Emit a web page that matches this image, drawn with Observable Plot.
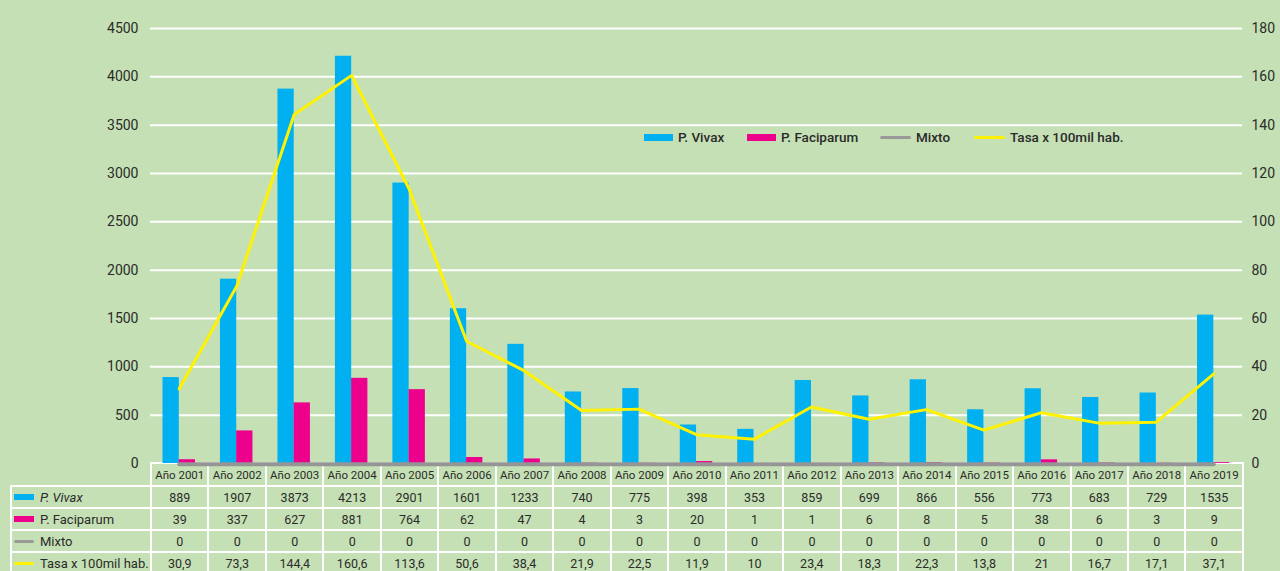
<!DOCTYPE html>
<html><head><meta charset="utf-8">
<script src="https://cdn.jsdelivr.net/npm/d3@7"></script>
<script src="https://cdn.jsdelivr.net/npm/@observablehq/plot@0.6"></script>
<style>
body{margin:0;background:#c5e0b4;font-family:Roboto,"DejaVu Sans",sans-serif;color:#2b2b2b}
#wrap{position:relative;width:1280px;height:571px;overflow:hidden;background:#c5e0b4}
#chart{position:absolute;left:0;top:0;z-index:2}
#legend{position:absolute;left:0;top:0;width:1280px;height:0;z-index:3;font-size:13.5px;font-weight:500;color:#2b2b2b}
.lg{position:absolute;display:flex;align-items:center;white-space:nowrap;top:128px;height:18px}
.sw{display:inline-block;width:29px;margin-right:5px}
table{position:absolute;left:10px;top:462px;border-collapse:collapse;table-layout:fixed;width:1232px;z-index:1}
td{border:2px solid #fff;text-align:center;font-size:12.5px;color:#2b2b2b;padding:0;height:20px;white-space:nowrap;overflow:hidden}
tr.hd td{font-size:11.5px;height:21px}
tr.hd td.blank{border-top:none;border-left:none;border-bottom:2px solid #fff}
td.lab{text-align:left;font-size:13px;padding-left:2px}
.tsw{display:inline-block;width:20px;vertical-align:middle;margin-right:6px;position:relative;top:-1px}
</style></head><body>
<div id="wrap"><div id="chart"></div><div id="legend"></div><table id="tbl"></table></div>
<script>
const years = ["Año 2001","Año 2002","Año 2003","Año 2004","Año 2005","Año 2006","Año 2007","Año 2008","Año 2009","Año 2010","Año 2011","Año 2012","Año 2013","Año 2014","Año 2015","Año 2016","Año 2017","Año 2018","Año 2019"];
const vivax = [889,1907,3873,4213,2901,1601,1233,740,775,398,353,859,699,866,556,773,683,729,1535];
const falciparum = [39,337,627,881,764,62,47,4,3,20,1,1,6,8,5,38,6,3,9];
const mixto = [0,0,0,0,0,0,0,0,0,0,0,0,0,0,0,0,0,0,0];
const tasa = [30.9,73.3,144.4,160.6,113.6,50.6,38.4,21.9,22.5,11.9,10,23.4,18.3,22.3,13.8,21,16.7,17.1,37.1];
const tasaLabels = ["30,9","73,3","144,4","160,6","113,6","50,6","38,4","21,9","22,5","11,9","10","23,4","18,3","22,3","13,8","21","16,7","17,1","37,1"];
const leftTicks = [0,500,1000,1500,2000,2500,3000,3500,4000,4500];
const rightTicks = [0,20,40,60,80,100,120,140,160,180];
const seriesNames = ["P. Vivax","P. Faciparum","Mixto","Tasa x  100mil hab."];
const tableNames = ["P. Vivax","P. Faciparum","Mixto","Tasa x 100mil hab."];
const colors = ["#00b0f0","#ec008c","#999999","#fff200"];

const k = 4500 / 180; // right axis -> left axis units
const data = years.map((y, i) => ({year: y, vivax: vivax[i], falc: falciparum[i], mixto: mixto[i], tasa: tasa[i]}));

const chart = Plot.plot({
  width: 1280, height: 476,
  marginTop: 28, marginBottom: 13, marginLeft: 150, marginRight: 38,
  style: {background: "transparent", fontFamily: "Roboto, sans-serif", fontSize: "14px", color: "#2b2b2b"},
  x: {domain: years, padding: 0, round: false, axis: null},
  y: {domain: [0, 4500], axis: null},
  marks: [
    Plot.gridY(leftTicks.slice(1), {stroke: "#fff", strokeOpacity: 1, strokeWidth: 2}),
    Plot.axisY(leftTicks, {anchor: "left", tickSize: 0, tickPadding: 12, fontSize: 14, tickFormat: d => String(d)}),
    Plot.axisY(rightTicks.map(d => d * k), {anchor: "right", tickSize: 0, tickPadding: 9, fontSize: 14, tickFormat: d => String(Math.round(d / k))}),
    Plot.barY(data, {x: "year", y: "vivax", fill: colors[0], insetLeft: 12.5, insetRight: 28.7}),
    Plot.barY(data, {x: "year", y: "falc", fill: colors[1], insetLeft: 28.7, insetRight: 12.5}),
    Plot.lineY(data, {x: "year", y: "mixto", stroke: "#959595", strokeWidth: 4, dy: 0.8}),
    Plot.lineY(data, {x: "year", y: d => d.tasa * k, stroke: colors[3], strokeWidth: 3})
  ]
});
document.getElementById("chart").appendChild(chart);

// legend
const legendPos = [644, 747, 880, 974];
const lg = document.getElementById("legend");
seriesNames.forEach((name, i) => {
  const item = document.createElement("div");
  item.className = "lg";
  item.style.left = legendPos[i] + "px";
  const sw = document.createElement("span");
  sw.className = "sw";
  sw.style.background = colors[i];
  sw.style.height = i < 2 ? "7px" : "3px";
  if (i >= 2) { sw.style.borderRadius = "2px"; sw.style.width = "31px"; }
  item.appendChild(sw);
  item.appendChild(document.createTextNode(name));
  lg.appendChild(item);
});

// table
const tbl = document.getElementById("tbl");
const cg = document.createElement("colgroup");
const c0 = document.createElement("col"); c0.style.width = "140px"; cg.appendChild(c0);
years.forEach(() => { const c = document.createElement("col"); c.style.width = (1092 / 19) + "px"; cg.appendChild(c); });
tbl.appendChild(cg);
const hd = document.createElement("tr"); hd.className = "hd";
const b = document.createElement("td"); b.className = "blank"; hd.appendChild(b);
years.forEach(y => { const td = document.createElement("td"); td.textContent = y; hd.appendChild(td); });
tbl.appendChild(hd);
const rows = [vivax.map(String), falciparum.map(String), mixto.map(String), tasaLabels];
rows.forEach((vals, i) => {
  const tr = document.createElement("tr");
  const lab = document.createElement("td"); lab.className = "lab";
  const sw = document.createElement("span"); sw.className = "tsw";
  sw.style.background = colors[i];
  sw.style.height = i < 2 ? "6px" : "3px";
  if (i >= 2) sw.style.borderRadius = "2px";
  lab.appendChild(sw);
  const t = document.createElement("span"); t.textContent = tableNames[i];
  if (i === 0) t.style.fontStyle = "italic";
  lab.appendChild(t);
  tr.appendChild(lab);
  vals.forEach(v => { const td = document.createElement("td"); td.textContent = v; tr.appendChild(td); });
  tbl.appendChild(tr);
});
</script>
</body></html>
